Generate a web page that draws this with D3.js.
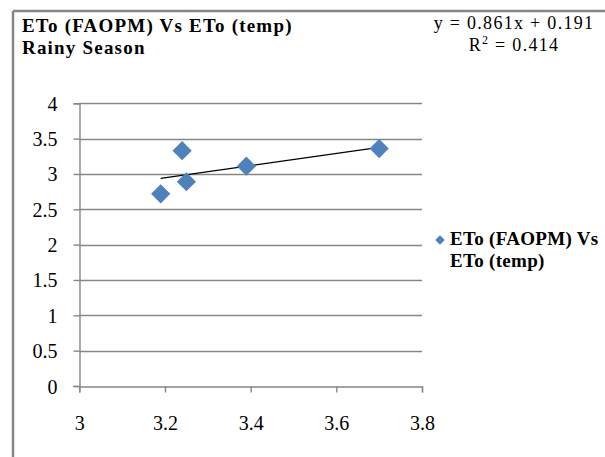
<!DOCTYPE html>
<html>
<head>
<meta charset="utf-8">
<script src="https://cdn.jsdelivr.net/npm/d3@7"></script>
<style>
  html, body { margin: 0; padding: 0; background: #fff; }
  svg { display: block; }
</style>
</head>
<body>
<svg id="chart" width="605" height="457"></svg>
<script>
// ETo estimated from temperature (x) against FAO Penman-Monteith ETo (y), rainy season
const etoTemp   = [3.19, 3.24, 3.25, 3.39, 3.70];
const etoFaopm  = [2.72, 3.33, 2.89, 3.11, 3.36];
const xTicks    = [3, 3.2, 3.4, 3.6, 3.8];
const yTicks    = [0, 0.5, 1, 1.5, 2, 2.5, 3, 3.5, 4];
const titleLines = ["ETo (FAOPM) Vs ETo (temp)", "Rainy Season"];
const legendLines = ["ETo (FAOPM) Vs", "ETo (temp)"];
const slope = 0.861, intercept = 0.191, r2 = 0.414;

const svg = d3.select("#chart");
const serif = "'Liberation Serif', 'DejaVu Serif', serif";
const gridColor = "#868686";
const markColor = "#4F81BD";

// outer chart frame (top and left edges in view)
svg.append("line").attr("x1", 13).attr("y1", 11).attr("x2", 605).attr("y2", 11)
  .attr("stroke", gridColor).attr("stroke-width", 2.5);
svg.append("line").attr("x1", 13).attr("y1", 11).attr("x2", 13).attr("y2", 457)
  .attr("stroke", gridColor).attr("stroke-width", 2.5);

const x = d3.scaleLinear().domain([3, 3.8]).range([79.3, 422]);
const y = d3.scaleLinear().domain([0, 4]).range([386, 103.3]);

// horizontal gridlines
svg.append("g").selectAll("line").data(yTicks.filter(d => d > 0)).join("line")
  .attr("x1", x(3)).attr("x2", x(3.8))
  .attr("y1", d => Math.round(y(d)) + 0.5).attr("y2", d => Math.round(y(d)) + 0.5)
  .attr("stroke", gridColor).attr("stroke-width", 1.4);

// y axis
const yAxis = svg.append("g")
  .attr("transform", `translate(${Math.round(x(3)) + 0.5},0)`)
  .call(d3.axisLeft(y).tickValues(yTicks).tickSize(6).tickPadding(16)
    .tickFormat(d3.format("")));
// x axis
const xAxis = svg.append("g")
  .attr("transform", `translate(0,${Math.round(y(0)) + 0.5})`)
  .call(d3.axisBottom(x).tickValues(xTicks).tickSize(6).tickPadding(23)
    .tickFormat(d3.format("")));

[yAxis, xAxis].forEach(ax => {
  ax.select(".domain").attr("stroke", gridColor).attr("stroke-width", 1.4);
  ax.selectAll(".tick line").attr("stroke", gridColor).attr("stroke-width", 1.4);
  ax.selectAll(".tick text").attr("fill", "#000")
    .style("font-family", serif).style("font-size", "20px");
});
yAxis.selectAll(".tick text").attr("x", -22).attr("dy", "0.35em");

// linear trendline across the data range
const xMin = d3.min(etoTemp), xMax = d3.max(etoTemp);
svg.append("line")
  .attr("x1", x(xMin)).attr("y1", y(slope * xMin + intercept))
  .attr("x2", x(xMax)).attr("y2", y(slope * xMax + intercept))
  .attr("stroke", "#000").attr("stroke-width", 1.3);

// diamond markers
const pts = etoTemp.map((v, i) => ({ x: v, y: etoFaopm[i] }));
svg.append("g").selectAll("path").data(pts).join("path")
  .attr("d", d3.symbol().type(d3.symbolSquare).size(185))
  .attr("transform", d => `translate(${x(d.x)},${y(d.y)}) rotate(45)`)
  .attr("fill", markColor);

// title
svg.append("g").selectAll("text").data(titleLines).join("text")
  .attr("x", 22).attr("y", (d, i) => 32 + i * 22)
  .style("font-family", serif).style("font-weight", "bold").style("font-size", "19px")
  .style("letter-spacing", "1.2px")
  .text(d => d);

// trendline equation
const eq = svg.append("g").style("font-family", serif).style("font-size", "18px")
  .style("letter-spacing", "1.3px").attr("text-anchor", "middle");
eq.append("text").attr("x", 514).attr("y", 29)
  .text(`y = ${slope}x + ${intercept}`);
const r2Text = eq.append("text").attr("x", 514).attr("y", 51);
r2Text.append("tspan").text("R");
r2Text.append("tspan").attr("dy", -7).style("font-size", "12px").text("2");
r2Text.append("tspan").attr("dy", 7).text(` = ${r2}`);

// legend
svg.append("path")
  .attr("d", d3.symbol().type(d3.symbolSquare).size(45))
  .attr("transform", "translate(440,240) rotate(45)")
  .attr("fill", markColor);
svg.append("g").selectAll("text").data(legendLines).join("text")
  .attr("x", 450).attr("y", (d, i) => 245 + i * 22)
  .style("font-family", serif).style("font-weight", "bold").style("font-size", "19px")
  .style("letter-spacing", "0.3px")
  .text(d => d);
</script>
</body>
</html>
